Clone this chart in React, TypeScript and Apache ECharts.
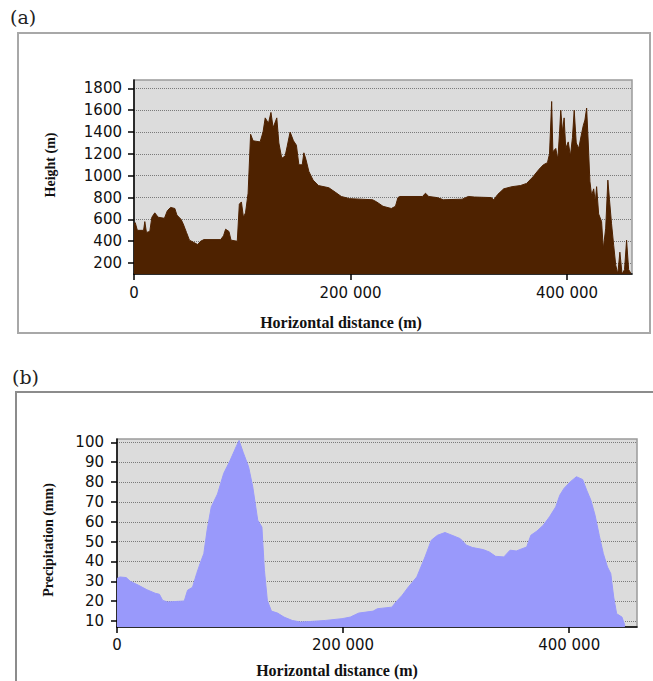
import React, { useEffect, useRef } from "react";
import * as echarts from "echarts";

// (a) terrain profile: horizontal distance (m) and height (m)
const distanceA = [
  0, 1150, 3100, 8850, 10000, 11500, 14600, 16500, 19200, 22300, 28100, 30800, 33800, 37700, 39600,
  43500, 45400, 48500, 51200, 55000, 58800, 61500, 64600, 80000, 82700, 84600, 87700, 89600, 95400,
  97300, 99200, 101100, 103000, 105400, 107700, 110000, 116500, 119200, 121200, 124200, 126500,
  128500, 131900, 133800, 136500, 139600, 141500, 144200, 147300, 150000, 152300, 155400, 156900,
  158800, 161500, 165400, 170400, 180000, 185800, 191500, 199200, 220400, 224200, 230000, 237700,
  241500, 243800, 245400, 266500, 269200, 272300, 280000, 285800, 303100, 308800, 314600, 330000,
  332300, 336100, 341500, 349200, 356900, 362700, 368500, 374200, 378100, 381900, 383800, 385800,
  386900, 389600, 391500, 393100, 394200, 395800, 397300, 398800, 401100, 403100, 405000, 406600,
  408500, 410800, 413100, 415000, 416500, 418100, 419600, 421100, 422700, 424600, 426100, 427300,
  429200, 431900, 433500, 435700, 437700, 439200, 441100, 443100, 445000, 446900, 448800, 450800,
  453100, 455000, 456900, 458800,
];
const heightA = [
  560, 570, 500, 500, 580, 480, 490, 620, 660, 620, 610, 680, 710, 700, 640,
  600, 560, 480, 410, 390, 370, 400, 415, 415, 450, 510, 490, 410, 400,
  740, 760, 620, 660, 840, 1380, 1320, 1310, 1400, 1530, 1480, 1580,
  1440, 1530, 1300, 1160, 1180, 1270, 1400, 1320, 1280, 1100, 1100, 1210,
  1150, 1040, 960, 910, 890, 850, 810, 790, 780, 760, 720, 700,
  720, 800, 810, 810, 840, 810, 800, 780, 785, 810, 805, 800,
  780, 830, 880, 900, 910, 930, 990, 1060, 1100, 1120, 1200, 1680,
  1220, 1250, 1150, 1400, 1600, 1400, 1530, 1250, 1310, 1180, 1350, 1600,
  1300, 1250, 1370, 1460, 1510, 1620, 1300, 950, 820, 880, 760, 900,
  650, 580, 330, 520, 960, 780, 560, 360, 180, 100, 300, 100,
  140, 410, 140, 110,
];

// (b) precipitation profile: horizontal distance (m) and precipitation (mm)
const distanceB = [
  0, 2600, 8100, 11800, 19100, 26400, 33800, 37500, 40400, 44800, 59500, 62400, 66800, 70500, 73500,
  76800, 79700, 83400, 88900, 94400, 99900, 105400, 108000, 111600, 116400, 120100, 124500, 128200,
  130400, 133000, 136600, 142100, 147700, 155000, 162300, 171500, 184400, 199100, 206400, 213800,
  226600, 230300, 243100, 246800, 252300, 257800, 265200, 268800, 272500, 278000, 283500, 290100,
  296400, 303700, 309200, 314700, 323900, 329400, 334900, 342200, 347700, 353200, 362400, 366100,
  371600, 377100, 382600, 388100, 391700, 395400, 400900, 406400, 411900, 415500, 419200, 422900,
  426600, 430200, 433900, 436800, 439400, 442000, 446700, 449300,
];
const precipB = [
  31.4, 32.2, 31.9, 30, 28, 25.8, 24, 23.5, 20.4, 19.6, 20.1, 25.5, 27, 34, 39,
  44, 55.8, 67.5, 74, 84.4, 90.7, 97.8, 101, 95, 87.7, 77.6, 60.8, 57.4,
  35.6, 20.4, 15, 14, 12, 10.3, 9.5, 9.8, 10.3, 11.2, 12, 14,
  15, 16.2, 17, 19.6, 23, 27.2, 32.2, 37.2, 42.3, 50.7, 53.2, 54.6,
  53.2, 51.5, 48.2, 47, 46, 44.8, 42.6, 42.3, 45.7, 45.3, 47.3, 53.2,
  55.4, 58.3, 62.5, 67.5, 73.4, 76.8, 80.1, 82.7, 81.3, 75.9, 70.9, 63.3,
  53.2, 44, 37.2, 33.9, 22.1, 13.7, 12, 7.8,
];

// tick labels
const xTicks = [0, 200000, 400000];
const yTicksA = [200, 400, 600, 800, 1000, 1200, 1400, 1600, 1800];
const yTicksB = [10, 20, 30, 40, 50, 60, 70, 80, 90, 100];

const fmtX = (v: number) => (v === 0 ? "0" : String(v).replace(/\B(?=(\d{3})+(?!\d))/g, " "));
const fmtY = (v: number) => String(v);

export default function App() {
  const ref = useRef<HTMLDivElement>(null);
  useEffect(() => {
    if (!ref.current) return;
    const chart = echarts.init(ref.current, null, { renderer: "svg" });
    const tickFont = { fontFamily: "DejaVu Sans", fontSize: 15, color: "#111" };
    const titleFont = "bold 16px 'Liberation Serif'";
    const vTitleFont = "bold 14px 'Liberation Serif'";
    const axisLine = { show: true, lineStyle: { color: "#000", width: 1.5 } };
    const split = { show: true, lineStyle: { color: "#7a7a7a", type: "dotted" as const, width: 1 } };
    chart.setOption({
      animation: false,
      grid: [
        { left: 134, top: 80, width: 498, height: 194, show: true, backgroundColor: "#dcdcdc", borderColor: "#9a9a9a", borderWidth: 1.5 },
        { left: 117, top: 439, width: 520, height: 188, show: true, backgroundColor: "#dcdcdc", borderColor: "#9a9a9a", borderWidth: 1.5 },
      ],
      xAxis: [
        {
          type: "value", gridIndex: 0, min: 0, max: 460000,
          axisLine, splitLine: { show: false },
          axisTick: { show: true, length: 6, lineStyle: { color: "#000", width: 1.5 }, customValues: xTicks },
          axisLabel: { ...tickFont, margin: 11, customValues: xTicks, formatter: fmtX },
        },
        {
          type: "value", gridIndex: 1, min: 0, max: 460000,
          axisLine, splitLine: { show: false },
          axisTick: { show: true, length: 6, lineStyle: { color: "#000", width: 1.5 }, customValues: xTicks },
          axisLabel: { ...tickFont, margin: 10, customValues: xTicks, formatter: fmtX },
        },
      ],
      yAxis: [
        {
          type: "value", gridIndex: 0, min: 100, max: 1877,
          axisLine, splitLine: split,
          axisTick: { show: true, length: 6, lineStyle: { color: "#000", width: 1.5 }, customValues: yTicksA },
          axisLabel: { ...tickFont, margin: 12, customValues: yTicksA, formatter: fmtY },
        },
        {
          type: "value", gridIndex: 1, min: 7, max: 101.7,
          axisLine, splitLine: split,
          axisTick: { show: true, length: 6, lineStyle: { color: "#000", width: 1.5 }, customValues: yTicksB },
          axisLabel: { ...tickFont, margin: 13, customValues: yTicksB, formatter: fmtY },
        },
      ],
      series: [
        {
          type: "line", xAxisIndex: 0, yAxisIndex: 0,
          data: distanceA.map((d, i) => [d, heightA[i]]),
          showSymbol: false, symbol: "none",
          lineStyle: { color: "#4e2200", width: 1 },
          areaStyle: { color: "#4e2200", opacity: 1, origin: "start" },
          z: 2,
        },
        {
          type: "line", xAxisIndex: 1, yAxisIndex: 1,
          data: distanceB.map((d, i) => [d, precipB[i]]),
          showSymbol: false, symbol: "none",
          lineStyle: { color: "#9999fb", width: 1 },
          areaStyle: { color: "#9999fb", opacity: 1, origin: "start" },
          z: 2,
        },
      ],
      graphic: [
        { type: "rect", shape: { x: 18, y: 33, width: 632, height: 300 }, style: { fill: "none", stroke: "#a8a8a8", lineWidth: 2 }, z: 0 },
        { type: "rect", shape: { x: 16, y: 392, width: 650, height: 300 }, style: { fill: "none", stroke: "#8c8c8c", lineWidth: 2 }, z: 0 },
        { type: "text", x: 10, y: 17, style: { text: "(a)", font: "19px 'DejaVu Serif'", fill: "#222", textAlign: "left", textVerticalAlign: "middle" } },
        { type: "text", x: 12, y: 377, style: { text: "(b)", font: "19px 'DejaVu Serif'", fill: "#222", textAlign: "left", textVerticalAlign: "middle" } },
        { type: "text", x: 50, y: 165, rotation: Math.PI / 2, style: { text: "Height (m)", font: vTitleFont, fill: "#111", textAlign: "center", textVerticalAlign: "middle" } },
        { type: "text", x: 341, y: 322, style: { text: "Horizontal distance (m)", font: titleFont, fill: "#111", textAlign: "center", textVerticalAlign: "middle" } },
        { type: "text", x: 48, y: 540, rotation: Math.PI / 2, style: { text: "Precipitation (mm)", font: vTitleFont, fill: "#111", textAlign: "center", textVerticalAlign: "middle" } },
        { type: "text", x: 337, y: 670, style: { text: "Horizontal distance (m)", font: titleFont, fill: "#111", textAlign: "center", textVerticalAlign: "middle" } },
      ],
    });
    return () => chart.dispose();
  }, []);
  return <div ref={ref} style={{ position: "absolute", left: 0, top: 0, width: 653, height: 681 }} />;
}
